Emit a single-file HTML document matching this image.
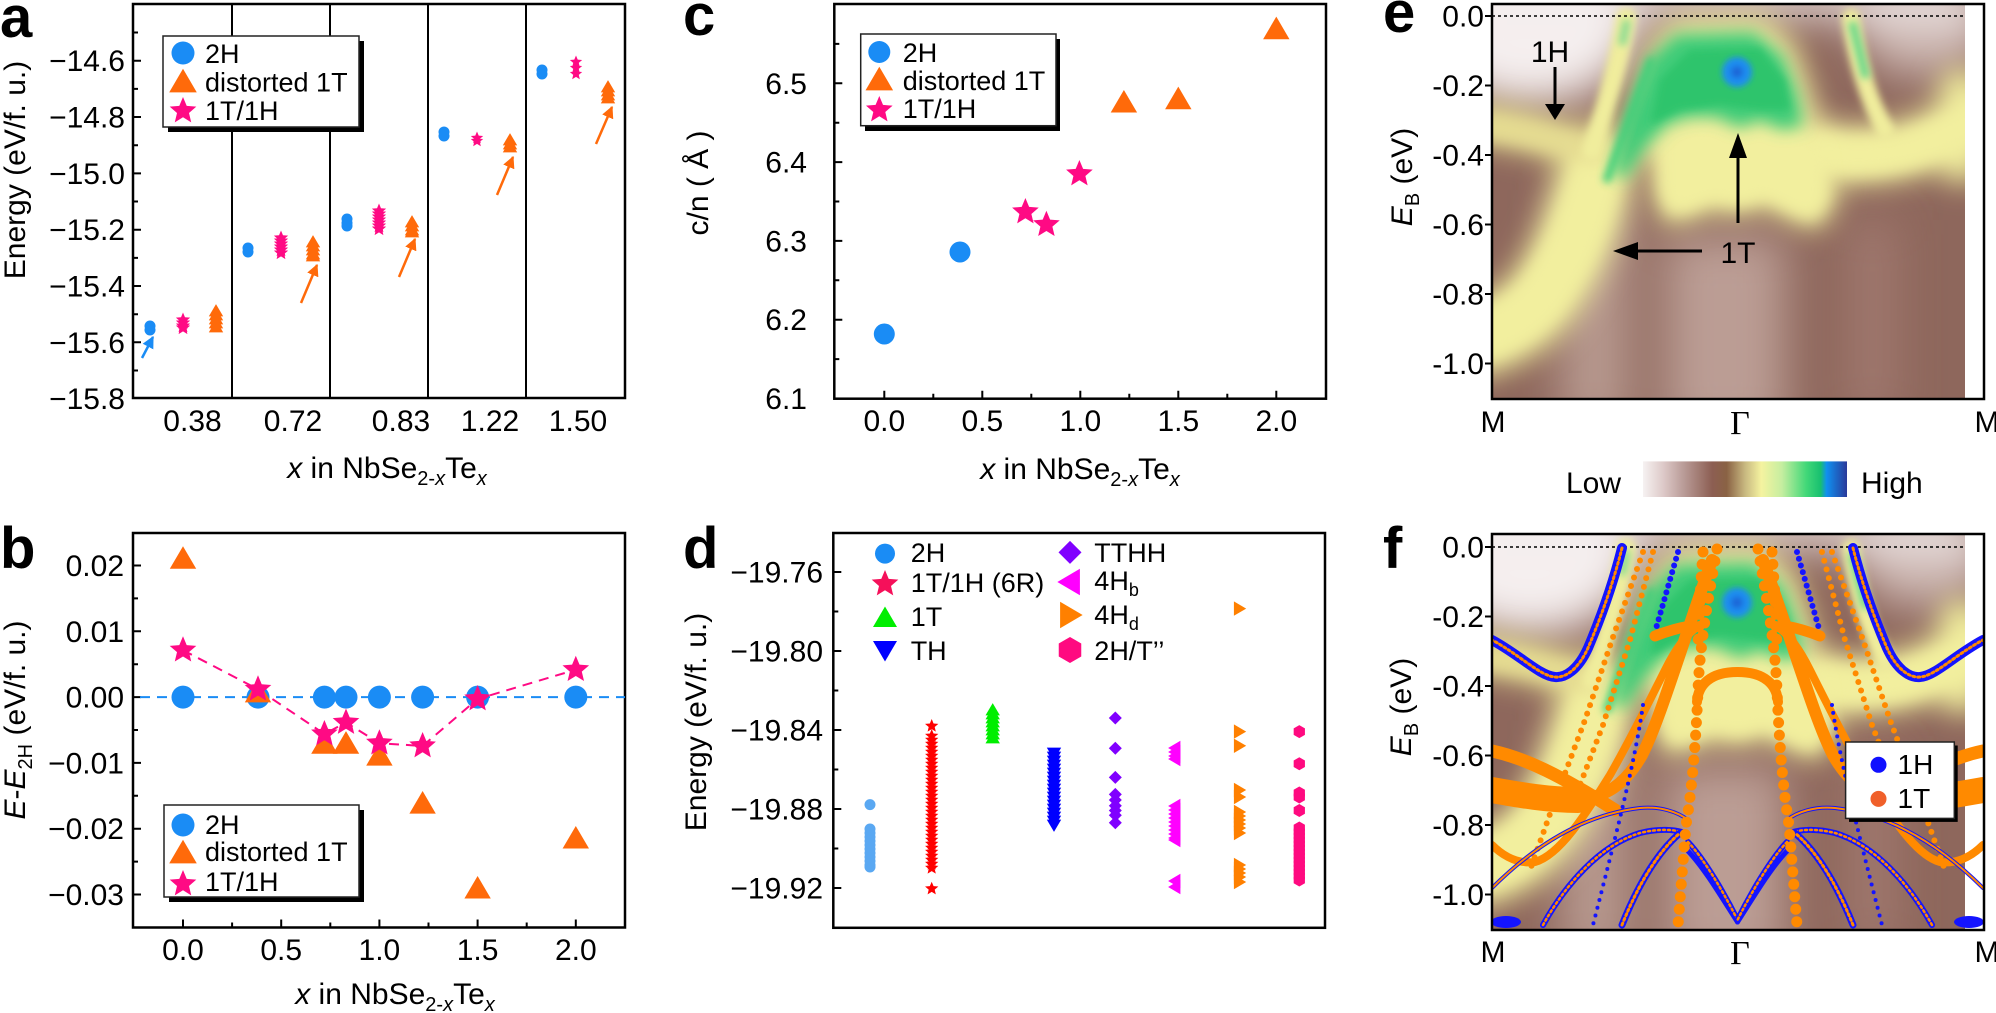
<!DOCTYPE html>
<html><head><meta charset="utf-8"><style>
html,body{margin:0;padding:0;background:#fff;}
svg{display:block;font-family:"Liberation Sans",Arial,sans-serif;}
.t{font-size:30px;}
.lg{font-size:27px;}
.pl{font-size:58px;font-weight:bold;}
</style></head><body>
<svg width="1996" height="1013" viewBox="0 0 1996 1013" xmlns="http://www.w3.org/2000/svg">
<defs>
<path id="st" d="M0,-1 L0.2645,-0.3641 L0.9511,-0.309 L0.428,0.1391 L0.5878,0.809 L0,0.45 L-0.5878,0.809 L-0.428,0.1391 L-0.9511,-0.309 L-0.2645,-0.3641Z"/>
<path id="tu" d="M0,-1.15 L1.2,0.9 L-1.2,0.9Z"/>
<path id="td" d="M0,1.15 L1.2,-0.9 L-1.2,-0.9Z"/>
<path id="tl" d="M-1.15,0 L0.9,-1.2 L0.9,1.2Z"/>
<path id="tr" d="M1.15,0 L-0.9,-1.2 L-0.9,1.2Z"/>
<path id="dm" d="M0,-1 L1,0 L0,1 L-1,0Z"/>
<path id="hx" d="M0,-1 L0.866,-0.5 L0.866,0.5 L0,1 L-0.866,0.5 L-0.866,-0.5Z"/>
<use id="stA" href="#st" transform="scale(7.5)"/>
<use id="stA2" href="#st" transform="scale(6.5)"/>
<use id="stB" href="#st" transform="scale(14)"/>
<use id="stD" href="#st" transform="scale(7)"/>
<use id="tuA" href="#tu" transform="scale(6)"/>
<use id="tuB" href="#tu" transform="scale(11)"/>
<use id="tuL" href="#tu" transform="scale(11.5)"/>
<use id="tuDL" href="#tu" transform="scale(10)"/>
<use id="tdD" href="#td" transform="scale(6)"/>
<use id="tdDL" href="#td" transform="scale(10)"/>
<use id="tlD" href="#tl" transform="scale(6)"/>
<use id="tlDL" href="#tl" transform="scale(11)"/>
<use id="trD" href="#tr" transform="scale(6)"/>
<use id="trDL" href="#tr" transform="scale(11)"/>
<use id="dmD" href="#dm" transform="scale(6.5)"/>
<use id="dmDL" href="#dm" transform="scale(11.5)"/>
<use id="hxD" href="#hx" transform="scale(6.5)"/>
<use id="hxDL" href="#hx" transform="scale(13)"/>
<marker id="ab" viewBox="0 0 10 10" refX="9" refY="5" markerWidth="12" markerHeight="12" markerUnits="userSpaceOnUse" orient="auto"><path d="M0,0 L10,5 L0,10z" fill="#1a8cf5"/></marker>
<marker id="ao" viewBox="0 0 10 10" refX="9" refY="5" markerWidth="12" markerHeight="12" markerUnits="userSpaceOnUse" orient="auto"><path d="M0,0 L10,5 L0,10z" fill="#ff6a0a"/></marker>
<filter id="b25" filterUnits="userSpaceOnUse" x="1300" y="-300" width="900" height="1000"><feGaussianBlur stdDeviation="22"/></filter>
<filter id="bB" filterUnits="userSpaceOnUse" x="1300" y="-300" width="900" height="1000"><feGaussianBlur stdDeviation="14"/></filter>
<filter id="bM" filterUnits="userSpaceOnUse" x="1300" y="-300" width="900" height="1000"><feGaussianBlur stdDeviation="8"/></filter>
<filter id="bS" filterUnits="userSpaceOnUse" x="1300" y="-300" width="900" height="1000"><feGaussianBlur stdDeviation="4"/></filter>
<filter id="b3" filterUnits="userSpaceOnUse" x="1300" y="-300" width="900" height="1000"><feGaussianBlur stdDeviation="3"/></filter>
<clipPath id="ce"><rect x="1492" y="4" width="473" height="395"/></clipPath>
<clipPath id="cf"><rect x="1492" y="534" width="473" height="396"/></clipPath>
<clipPath id="cf2"><rect x="1492" y="534" width="492" height="396"/></clipPath>
<linearGradient id="cb" x1="0" x2="1" y1="0" y2="0">
<stop offset="0" stop-color="#f6f2f2"/><stop offset="0.1" stop-color="#ddc9c8"/><stop offset="0.2" stop-color="#b99b97"/>
<stop offset="0.34" stop-color="#8c5e52"/><stop offset="0.41" stop-color="#8a6244"/><stop offset="0.5" stop-color="#c8b880"/>
<stop offset="0.58" stop-color="#f5f3a0"/><stop offset="0.68" stop-color="#c6eea0"/><stop offset="0.8" stop-color="#42d878"/>
<stop offset="0.87" stop-color="#18c070"/><stop offset="0.9" stop-color="#1090f0"/><stop offset="1" stop-color="#2a3a9a"/>
</linearGradient>
<g id="hm">
<rect x="1480" y="-10" width="500" height="420" fill="#8e675c"/>
<g filter="url(#b25)">
<rect x="1560" y="190" width="70" height="240" fill="#b7998f"/>
<rect x="1665" y="235" width="120" height="200" fill="#bb9d94"/>
<rect x="1850" y="220" width="45" height="200" fill="#a1796f"/>
<ellipse cx="1530" cy="20" rx="110" ry="85" fill="#f5efef"/>
<ellipse cx="1925" cy="25" rx="70" ry="50" fill="#cfbab5"/>
<rect x="1480" y="-20" width="500" height="34" fill="#f3eded"/>
</g>
<!-- soft wide yellow -->
<g filter="url(#bB)" fill="none" stroke="#efeb9c" stroke-linecap="round">
<path d="M1598,160 C1588,210 1570,260 1540,300 C1525,318 1505,330 1480,338" stroke-width="76"/>
<path d="M1480,124 C1520,128 1560,140 1598,152" stroke-width="40" stroke="#e2d890"/>
<path d="M1815,150 C1845,158 1880,155 1910,148 C1935,140 1955,128 1980,118" stroke-width="58"/>
<path d="M1962,92 L1962,160" stroke-width="48"/>
</g>
<g filter="url(#bB)" fill="#efeb9c">
<polygon points="1618,165 1632,100 1652,42 1676,18 1764,16 1796,46 1814,100 1820,138 1790,146 1740,138 1700,138 1658,150"/>
<polygon points="1650,136 1700,114 1740,124 1790,114 1830,146 1838,200 1820,230 1792,222 1765,206 1740,216 1712,210 1690,220 1666,226 1654,196"/>
</g>
<!-- sharper yellow cores -->
<g filter="url(#bM)" fill="none" stroke="#f2ef9e" stroke-linecap="round">
<path d="M1598,165 C1588,212 1570,258 1542,296 C1526,315 1508,326 1485,334" stroke-width="48"/>
<path d="M1485,126 C1520,130 1560,141 1596,152" stroke-width="22" stroke="#e6dd92"/>
<path d="M1825,152 C1850,158 1880,156 1910,149 C1935,141 1955,130 1975,122" stroke-width="36"/>
</g>
<g filter="url(#bM)" fill="#f2ef9e">
<polygon points="1660,142 1700,122 1740,132 1788,122 1822,150 1828,198 1814,220 1792,212 1765,198 1740,206 1712,200 1690,210 1670,214 1660,192"/>
</g>
<g filter="url(#bS)" fill="none" stroke="#f0ed9c" stroke-linecap="round">
<path d="M1626,18 C1620,60 1605,110 1592,150" stroke-width="20"/>
<path d="M1851,18 C1856,55 1866,95 1885,130" stroke-width="18"/>
</g>
<!-- green dome -->
<g filter="url(#bM)">
<polygon fill="#3fcc78" points="1614,172 1628,112 1650,58 1676,34 1754,32 1783,56 1798,96 1803,126 1782,130 1760,120 1740,128 1716,117 1690,117 1668,124 1646,146 1624,180"/>
</g>
<g filter="url(#bS)">
<polygon fill="#2fc46c" points="1660,80 1690,50 1760,48 1785,80 1790,110 1760,110 1720,105 1680,110 1650,125"/>
<path d="M1606,182 L1652,58" stroke="#3fd07a" stroke-width="8" fill="none"/>
<path d="M1852,22 L1866,78" stroke="#4fd486" stroke-width="7" fill="none"/>
<path d="M1627,20 L1622,45" stroke="#7ad890" stroke-width="7" fill="none"/>
</g>
<g filter="url(#b3)"><circle cx="1737" cy="72" r="15" fill="#1f8ef0"/><circle cx="1737" cy="72" r="6" fill="#1a66d8"/></g>
</g>
</defs>
<rect width="1996" height="1013" fill="#fff"/>

<!-- ================= Panel a ================= -->
<text class="pl" x="0" y="37">a</text>
<g stroke="#000" stroke-width="2">
<line x1="232" y1="4" x2="232" y2="398"/><line x1="330" y1="4" x2="330" y2="398"/><line x1="428" y1="4" x2="428" y2="398"/><line x1="526" y1="4" x2="526" y2="398"/>
</g>
<path d="M133,60.7h8M133,117h8M133,173.4h8M133,229.7h8M133,286h8M133,342.3h8M133,32.5h5M133,88.9h5M133,145.2h5M133,201.5h5M133,257.9h5M133,314.2h5M133,370.5h5" stroke="#000" stroke-width="2"/>
<rect x="133" y="4" width="492" height="394" fill="none" stroke="#000" stroke-width="2.5"/>
<g class="t" text-anchor="end">
<text x="125" y="71.2">−14.6</text><text x="125" y="127.5">−14.8</text><text x="125" y="183.9">−15.0</text><text x="125" y="240.2">−15.2</text><text x="125" y="296.5">−15.4</text><text x="125" y="352.8">−15.6</text><text x="125" y="409.1">−15.8</text>
</g>
<g class="t" text-anchor="middle">
<text x="192.5" y="431">0.38</text><text x="293" y="431">0.72</text><text x="401" y="431">0.83</text><text x="490" y="431">1.22</text><text x="578" y="431">1.50</text>
</g>
<text class="t" x="387" y="478" text-anchor="middle"><tspan font-style="italic">x</tspan> in NbSe<tspan font-size="20" dy="7">2-</tspan><tspan font-size="20" font-style="italic">x</tspan><tspan dy="-7">Te</tspan><tspan font-size="20" font-style="italic" dy="7">x</tspan></text>
<text class="t" transform="translate(25,170) rotate(-90)" text-anchor="middle">Energy (eV/f. u.)</text>
<g fill="#1a8cf5">
<circle cx="150" cy="326" r="5.5"/><circle cx="150" cy="330" r="5.5"/>
<circle cx="248" cy="248" r="5.5"/><circle cx="248" cy="252" r="5.5"/>
<circle cx="347" cy="219" r="5.5"/><circle cx="347" cy="223" r="5.5"/><circle cx="347" cy="226" r="5.5"/>
<circle cx="444" cy="132" r="5.5"/><circle cx="444" cy="136" r="5.5"/>
<circle cx="542" cy="70" r="5.5"/><circle cx="542" cy="74" r="5.5"/>
</g>
<g fill="#ff0a84">
<use href="#stA" x="183" y="320"/><use href="#stA" x="183" y="323"/><use href="#stA" x="183" y="326"/><use href="#stA" x="183" y="328"/>
<use href="#stA" x="281" y="238"/><use href="#stA" x="281" y="241"/><use href="#stA" x="281" y="244"/><use href="#stA" x="281" y="247"/><use href="#stA" x="281" y="250"/><use href="#stA" x="281" y="253"/>
<use href="#stA" x="379" y="211"/><use href="#stA" x="379" y="214"/><use href="#stA" x="379" y="217"/><use href="#stA" x="379" y="220"/><use href="#stA" x="379" y="223"/><use href="#stA" x="379" y="226"/><use href="#stA" x="379" y="229"/>
<use href="#stA2" x="477" y="138"/><use href="#stA2" x="477" y="141"/>
<use href="#stA2" x="576" y="62"/><use href="#stA2" x="576" y="68"/><use href="#stA2" x="576" y="74"/>
</g>
<g fill="#ff6a0a">
<use href="#tuA" x="216" y="311"/><use href="#tuA" x="216" y="315"/><use href="#tuA" x="216" y="319"/><use href="#tuA" x="216" y="323"/><use href="#tuA" x="216" y="327"/>
<use href="#tuA" x="313" y="242"/><use href="#tuA" x="313" y="246"/><use href="#tuA" x="313" y="250"/><use href="#tuA" x="313" y="254"/><use href="#tuA" x="313" y="256"/>
<use href="#tuA" x="412" y="222"/><use href="#tuA" x="412" y="226"/><use href="#tuA" x="412" y="230"/><use href="#tuA" x="412" y="232"/>
<use href="#tuA" x="510" y="140"/><use href="#tuA" x="510" y="144"/><use href="#tuA" x="510" y="147"/>
<use href="#tuA" x="608" y="87"/><use href="#tuA" x="608" y="91"/><use href="#tuA" x="608" y="95"/><use href="#tuA" x="608" y="98"/>
</g>
<line x1="142" y1="358" x2="153" y2="337" stroke="#1a8cf5" stroke-width="2.5" marker-end="url(#ab)"/>
<g stroke="#ff6a0a" stroke-width="2.5">
<line x1="301" y1="303" x2="317" y2="265" marker-end="url(#ao)"/>
<line x1="399" y1="277" x2="415" y2="239" marker-end="url(#ao)"/>
<line x1="497" y1="195" x2="513" y2="157" marker-end="url(#ao)"/>
<line x1="596" y1="144" x2="612" y2="107" marker-end="url(#ao)"/>
</g>
<rect x="168" y="41" width="196" height="91" fill="#000"/>
<rect x="163" y="36" width="196" height="91" fill="#fff" stroke="#222" stroke-width="1.5"/>
<circle cx="183" cy="53" r="11.5" fill="#1a8cf5"/>
<use href="#tuL" x="183" y="82" fill="#ff6a0a"/>
<use href="#stB" x="183" y="111" fill="#ff0a84"/>
<g class="lg"><text x="205" y="63">2H</text><text x="205" y="91.5">distorted 1T</text><text x="205" y="120">1T/1H</text></g>

<!-- ================= Panel b ================= -->
<text class="pl" x="0" y="568">b</text>
<path d="M133,565.5h8M133,631.3h8M133,697.1h8M133,762.9h8M133,828.7h8M133,894.5h8M133,598.4h5M133,664.2h5M133,730h5M133,795.8h5M133,861.6h5M183,927.5v-8M281.2,927.5v-8M379.4,927.5v-8M477.6,927.5v-8M575.8,927.5v-8M232.1,927.5v-5M330.3,927.5v-5M428.5,927.5v-5M526.7,927.5v-5" stroke="#000" stroke-width="2"/>
<rect x="133" y="533" width="492" height="394.5" fill="none" stroke="#000" stroke-width="2.5"/>
<g class="t" text-anchor="end">
<text x="124" y="576">0.02</text><text x="124" y="641.8">0.01</text><text x="124" y="707.6">0.00</text><text x="124" y="773.4">−0.01</text><text x="124" y="839.2">−0.02</text><text x="124" y="905">−0.03</text>
</g>
<g class="t" text-anchor="middle">
<text x="183" y="960">0.0</text><text x="281.2" y="960">0.5</text><text x="379.4" y="960">1.0</text><text x="477.6" y="960">1.5</text><text x="575.8" y="960">2.0</text>
</g>
<text class="t" x="395" y="1004" text-anchor="middle"><tspan font-style="italic">x</tspan> in NbSe<tspan font-size="20" dy="7">2-</tspan><tspan font-size="20" font-style="italic">x</tspan><tspan dy="-7">Te</tspan><tspan font-size="20" font-style="italic" dy="7">x</tspan></text>
<text class="t" transform="translate(25,720) rotate(-90)" text-anchor="middle"><tspan font-style="italic">E</tspan>-<tspan font-style="italic">E</tspan><tspan font-size="20" dy="7">2H</tspan><tspan dy="-7"> (eV/f. u.)</tspan></text>
<line x1="140" y1="697.1" x2="625" y2="697.1" stroke="#1a8cf5" stroke-width="2" stroke-dasharray="10,7"/>
<polyline points="183,650.2 258,689.3 324.4,734 346,722.5 379.4,743.2 422.6,746 477.6,699 575.8,669.7" fill="none" stroke="#ff0a84" stroke-width="2" stroke-dasharray="10,7"/>
<g fill="#1a8cf5">
<circle cx="183" cy="697.1" r="11.5"/><circle cx="258" cy="697.1" r="11.5"/><circle cx="324.4" cy="697.1" r="11.5"/><circle cx="346" cy="697.1" r="11.5"/><circle cx="379.4" cy="697.1" r="11.5"/><circle cx="422.6" cy="697.1" r="11.5"/><circle cx="477.6" cy="697.1" r="11.5"/><circle cx="575.8" cy="697.1" r="11.5"/>
</g>
<g fill="#ff6a0a">
<use href="#tuB" x="183" y="558.9"/><use href="#tuB" x="258" y="692.5"/><use href="#tuB" x="324.4" y="743.8"/><use href="#tuB" x="346" y="743.8"/><use href="#tuB" x="379.4" y="755.7"/><use href="#tuB" x="422.6" y="803.7"/><use href="#tuB" x="477.6" y="888.6"/><use href="#tuB" x="575.8" y="838.6"/>
</g>
<g fill="#ff0a84">
<use href="#stB" x="183" y="650.2"/><use href="#stB" x="258" y="689.3"/><use href="#stB" x="324.4" y="734"/><use href="#stB" x="346" y="722.5"/><use href="#stB" x="379.4" y="743.2"/><use href="#stB" x="422.6" y="746"/><use href="#stB" x="477.6" y="699"/><use href="#stB" x="575.8" y="669.7"/>
</g>
<rect x="169" y="810" width="195" height="92" fill="#000"/>
<rect x="164" y="805" width="195" height="92" fill="#fff" stroke="#222" stroke-width="1.5"/>
<circle cx="183" cy="825" r="11.5" fill="#1a8cf5"/>
<use href="#tuL" x="183" y="853" fill="#ff6a0a"/>
<use href="#stB" x="183" y="884" fill="#ff0a84"/>
<g class="lg"><text x="205" y="834">2H</text><text x="205" y="861">distorted 1T</text><text x="205" y="891">1T/1H</text></g>

<!-- ================= Panel c ================= -->
<text class="pl" x="683" y="35">c</text>
<path d="M834.3,83.3h8M834.3,162.1h8M834.3,240.9h8M834.3,319.7h8M834.3,43.9h5M834.3,122.7h5M834.3,201.5h5M834.3,280.3h5M834.3,359.1h5M884.3,398.7v-8M982.3,398.7v-8M1080.3,398.7v-8M1178.3,398.7v-8M1276.3,398.7v-8M933.3,398.7v-5M1031.3,398.7v-5M1129.3,398.7v-5M1227.3,398.7v-5" stroke="#000" stroke-width="2"/>
<rect x="834.3" y="4" width="491.7" height="394.7" fill="none" stroke="#000" stroke-width="2.5"/>
<g class="t" text-anchor="end">
<text x="807" y="93.8">6.5</text><text x="807" y="172.6">6.4</text><text x="807" y="251.4">6.3</text><text x="807" y="330.2">6.2</text><text x="807" y="409">6.1</text>
</g>
<g class="t" text-anchor="middle">
<text x="884.3" y="431">0.0</text><text x="982.3" y="431">0.5</text><text x="1080.3" y="431">1.0</text><text x="1178.3" y="431">1.5</text><text x="1276.3" y="431">2.0</text>
</g>
<text class="t" x="1080" y="479" text-anchor="middle"><tspan font-style="italic">x</tspan> in NbSe<tspan font-size="20" dy="7">2-</tspan><tspan font-size="20" font-style="italic">x</tspan><tspan dy="-7">Te</tspan><tspan font-size="20" font-style="italic" dy="7">x</tspan></text>
<text class="t" transform="translate(708,183) rotate(-90)" text-anchor="middle">c/n ( Å )</text>
<g fill="#1a8cf5"><circle cx="884.3" cy="334" r="10.5"/><circle cx="960" cy="252" r="10.5"/></g>
<g fill="#ff0a84"><use href="#stB" x="1025.4" y="212"/><use href="#stB" x="1046.4" y="224.7"/><use href="#stB" x="1079.4" y="174"/></g>
<g fill="#ff6a0a"><use href="#tuB" x="1123.9" y="102.6"/><use href="#tuB" x="1178.3" y="99.3"/><use href="#tuB" x="1276.3" y="29.3"/></g>
<rect x="865" y="39" width="195" height="92" fill="#000"/>
<rect x="860.7" y="34" width="195.3" height="91.7" fill="#fff" stroke="#222" stroke-width="1.5"/>
<circle cx="879.3" cy="52" r="11" fill="#1a8cf5"/>
<use href="#tuL" x="879.3" y="80" fill="#ff6a0a"/>
<use href="#stB" x="879.3" y="110" fill="#ff0a84"/>
<g class="lg"><text x="902.7" y="62">2H</text><text x="902.7" y="90">distorted 1T</text><text x="902.7" y="118">1T/1H</text></g>

<!-- ================= Panel d ================= -->
<text class="pl" x="683" y="568">d</text>
<path d="M833.3,572h8M833.3,651h8M833.3,730h8M833.3,809h8M833.3,888h8M833.3,611.5h5M833.3,690.5h5M833.3,769.5h5M833.3,848.5h5" stroke="#000" stroke-width="2"/>
<rect x="833.3" y="533" width="491.7" height="394.8" fill="none" stroke="#000" stroke-width="2.5"/>
<g class="t" text-anchor="end">
<text x="823" y="582.5">−19.76</text><text x="823" y="661.5">−19.80</text><text x="823" y="740.5">−19.84</text><text x="823" y="819.5">−19.88</text><text x="823" y="898.5">−19.92</text>
</g>
<text class="t" transform="translate(706,722) rotate(-90)" text-anchor="middle">Energy (eV/f. u.)</text>
<circle cx="885" cy="553.6" r="10" fill="#1a8cf5"/>
<use href="#stB" x="885" y="584" fill="#f5105a"/>
<use href="#tuDL" x="885" y="618" fill="#00ee00"/>
<use href="#tdDL" x="885" y="650" fill="#0000ff"/>
<use href="#dmDL" x="1070" y="552.4" fill="#8000ff"/>
<use href="#tlDL" x="1070" y="582" fill="#ff00ff"/>
<use href="#trDL" x="1070" y="615" fill="#ff8000"/>
<use href="#hxDL" x="1070" y="650" fill="#ff0a80"/>
<g class="lg">
<text x="910.7" y="562">2H</text><text x="910.7" y="592">1T/1H (6R)</text><text x="910.7" y="626">1T</text><text x="910.7" y="660">TH</text>
<text x="1094.3" y="562">TTHH</text>
<text x="1094.3" y="590">4H<tspan font-size="18" dy="6">b</tspan></text>
<text x="1094.3" y="624">4H<tspan font-size="18" dy="6">d</tspan></text>
<text x="1094.3" y="660">2H/T’’</text>
</g>
<g fill="#5aa8f2"><circle cx="870" cy="804.6" r="5.5"/>
<circle cx="870" cy="829" r="5.5"/><circle cx="870" cy="833" r="5.5"/><circle cx="870" cy="837" r="5.5"/><circle cx="870" cy="841" r="5.5"/><circle cx="870" cy="845" r="5.5"/><circle cx="870" cy="849" r="5.5"/><circle cx="870" cy="853" r="5.5"/><circle cx="870" cy="857" r="5.5"/><circle cx="870" cy="861" r="5.5"/><circle cx="870" cy="865" r="5.5"/><circle cx="870" cy="867" r="5.5"/>
</g>
<g fill="#ff0000">
<use href="#stD" x="931.7" y="726"/><use href="#stD" x="931.7" y="736"/><use href="#stD" x="931.7" y="740"/><use href="#stD" x="931.7" y="744"/><use href="#stD" x="931.7" y="748"/><use href="#stD" x="931.7" y="752"/><use href="#stD" x="931.7" y="756"/><use href="#stD" x="931.7" y="760"/><use href="#stD" x="931.7" y="764"/><use href="#stD" x="931.7" y="768"/><use href="#stD" x="931.7" y="772"/><use href="#stD" x="931.7" y="776"/><use href="#stD" x="931.7" y="780"/><use href="#stD" x="931.7" y="784"/><use href="#stD" x="931.7" y="788"/><use href="#stD" x="931.7" y="792"/><use href="#stD" x="931.7" y="796"/><use href="#stD" x="931.7" y="800"/><use href="#stD" x="931.7" y="804"/><use href="#stD" x="931.7" y="808"/><use href="#stD" x="931.7" y="812"/><use href="#stD" x="931.7" y="816"/><use href="#stD" x="931.7" y="820"/><use href="#stD" x="931.7" y="824"/><use href="#stD" x="931.7" y="828"/><use href="#stD" x="931.7" y="832"/><use href="#stD" x="931.7" y="836"/><use href="#stD" x="931.7" y="840"/><use href="#stD" x="931.7" y="844"/><use href="#stD" x="931.7" y="848"/><use href="#stD" x="931.7" y="852"/><use href="#stD" x="931.7" y="856"/><use href="#stD" x="931.7" y="860"/><use href="#stD" x="931.7" y="864"/><use href="#stD" x="931.7" y="868"/><use href="#stD" x="931.7" y="888.7"/>
</g>
<g fill="#00ee00">
<use href="#tuA" x="992.7" y="710"/><use href="#tuA" x="992.7" y="714"/><use href="#tuA" x="992.7" y="718"/><use href="#tuA" x="992.7" y="722"/><use href="#tuA" x="992.7" y="726"/><use href="#tuA" x="992.7" y="730"/><use href="#tuA" x="992.7" y="734"/><use href="#tuA" x="992.7" y="738"/>
</g>
<g fill="#0000ff">
<use href="#tdD" x="1054" y="753"/><use href="#tdD" x="1054" y="757"/><use href="#tdD" x="1054" y="761"/><use href="#tdD" x="1054" y="765"/><use href="#tdD" x="1054" y="769"/><use href="#tdD" x="1054" y="773"/><use href="#tdD" x="1054" y="777"/><use href="#tdD" x="1054" y="781"/><use href="#tdD" x="1054" y="785"/><use href="#tdD" x="1054" y="789"/><use href="#tdD" x="1054" y="793"/><use href="#tdD" x="1054" y="797"/><use href="#tdD" x="1054" y="801"/><use href="#tdD" x="1054" y="805"/><use href="#tdD" x="1054" y="809"/><use href="#tdD" x="1054" y="813"/><use href="#tdD" x="1054" y="817"/><use href="#tdD" x="1054" y="821"/><use href="#tdD" x="1054" y="825"/>
</g>
<g fill="#8000ff">
<use href="#dmD" x="1115.3" y="718"/><use href="#dmD" x="1115.3" y="748.3"/><use href="#dmD" x="1115.3" y="777.4"/><use href="#dmD" x="1115.3" y="794.4"/><use href="#dmD" x="1115.3" y="800"/><use href="#dmD" x="1115.3" y="805.8"/><use href="#dmD" x="1115.3" y="810.5"/><use href="#dmD" x="1115.3" y="815.2"/><use href="#dmD" x="1115.3" y="822.8"/>
</g>
<g fill="#ff00ff">
<use href="#tlD" x="1175" y="748"/><use href="#tlD" x="1175" y="752"/><use href="#tlD" x="1175" y="756"/><use href="#tlD" x="1175" y="759"/>
<use href="#tlD" x="1175" y="806"/><use href="#tlD" x="1175" y="810"/><use href="#tlD" x="1175" y="814"/><use href="#tlD" x="1175" y="818"/><use href="#tlD" x="1175" y="822"/><use href="#tlD" x="1175" y="826"/><use href="#tlD" x="1175" y="830"/><use href="#tlD" x="1175" y="834"/><use href="#tlD" x="1175" y="838"/><use href="#tlD" x="1175" y="840"/>
<use href="#tlD" x="1175" y="881"/><use href="#tlD" x="1175" y="887"/>
</g>
<g fill="#ff8000">
<use href="#trD" x="1239.3" y="608.6"/><use href="#trD" x="1239.3" y="731.6"/><use href="#trD" x="1239.3" y="745.8"/>
<use href="#trD" x="1239.3" y="790"/><use href="#trD" x="1239.3" y="797"/>
<use href="#trD" x="1239.3" y="812"/><use href="#trD" x="1239.3" y="816"/><use href="#trD" x="1239.3" y="820"/><use href="#trD" x="1239.3" y="824"/><use href="#trD" x="1239.3" y="828"/><use href="#trD" x="1239.3" y="833"/>
<use href="#trD" x="1239.3" y="865"/><use href="#trD" x="1239.3" y="869"/><use href="#trD" x="1239.3" y="873"/><use href="#trD" x="1239.3" y="877"/><use href="#trD" x="1239.3" y="882"/>
</g>
<g fill="#ff0a80">
<use href="#hxD" x="1299.3" y="731.6"/><use href="#hxD" x="1299.3" y="763.8"/><use href="#hxD" x="1299.3" y="793"/><use href="#hxD" x="1299.3" y="797"/><use href="#hxD" x="1299.3" y="810.5"/>
<use href="#hxD" x="1299.3" y="828"/><use href="#hxD" x="1299.3" y="832"/><use href="#hxD" x="1299.3" y="836"/><use href="#hxD" x="1299.3" y="840"/><use href="#hxD" x="1299.3" y="844"/><use href="#hxD" x="1299.3" y="848"/><use href="#hxD" x="1299.3" y="852"/><use href="#hxD" x="1299.3" y="856"/><use href="#hxD" x="1299.3" y="860"/><use href="#hxD" x="1299.3" y="864"/><use href="#hxD" x="1299.3" y="868"/><use href="#hxD" x="1299.3" y="872"/><use href="#hxD" x="1299.3" y="876"/><use href="#hxD" x="1299.3" y="880"/>
</g>

<!-- ================= Panel e ================= -->
<text class="pl" x="1383" y="32">e</text>
<g clip-path="url(#ce)"><use href="#hm"/></g>
<line x1="1492" y1="16" x2="1965" y2="16" stroke="#000" stroke-width="1.5" stroke-dasharray="3,3"/>
<path d="M1485,16h7M1485,85.5h7M1485,155h7M1485,224.5h7M1485,294h7M1485,363.5h7" stroke="#000" stroke-width="2"/>
<rect x="1492" y="4" width="492" height="395" fill="none" stroke="#000" stroke-width="2.5"/>
<g class="t" text-anchor="end">
<text x="1484" y="26.5">0.0</text><text x="1484" y="96">-0.2</text><text x="1484" y="165.5">-0.4</text><text x="1484" y="235">-0.6</text><text x="1484" y="304.5">-0.8</text><text x="1484" y="374">-1.0</text>
</g>
<text class="t" transform="translate(1412,177) rotate(-90)" text-anchor="middle"><tspan font-style="italic">E</tspan><tspan font-size="20" dy="7">B</tspan><tspan dy="-7"> (eV)</tspan></text>
<g class="t" text-anchor="middle">
<text x="1493" y="432">M</text><text x="1740" y="434" font-family="Liberation Serif, serif" font-size="34">Γ</text><text x="1987" y="432">M</text>
</g>
<text class="t" x="1550" y="62" text-anchor="middle">1H</text>
<line x1="1555" y1="67" x2="1555" y2="106" stroke="#000" stroke-width="3"/>
<path d="M1545,104 L1565,104 L1555,120Z" fill="#000"/>
<text class="t" x="1738" y="263" text-anchor="middle">1T</text>
<line x1="1738" y1="223" x2="1738" y2="155" stroke="#000" stroke-width="3"/>
<path d="M1729,158 L1747,158 L1738,133Z" fill="#000"/>
<line x1="1702" y1="251" x2="1635" y2="251" stroke="#000" stroke-width="3"/>
<path d="M1638,242 L1638,260 L1613,251Z" fill="#000"/>
<rect x="1643" y="461.4" width="204" height="35.6" fill="url(#cb)"/>
<text class="t" x="1566" y="493">Low</text>
<text class="t" x="1861" y="493">High</text>

<!-- ================= Panel f ================= -->
<text class="pl" x="1383" y="568">f</text>
<g clip-path="url(#cf)"><use href="#hm" transform="translate(0,530.5)"/></g>
<line x1="1492" y1="547" x2="1965" y2="547" stroke="#000" stroke-width="1.5" stroke-dasharray="3,3"/>
<g clip-path="url(#cf2)">
<g id="ovL">
<g fill="none" stroke="#ff8a00" stroke-linecap="round">
<path d="M1492,790 C1520,795 1548,800 1578,800" stroke-width="26"/>
<path d="M1575,800 C1605,798 1625,785 1642,755 C1660,720 1680,650 1712,560" stroke-width="12"/>
<path d="M1492,751 C1525,758 1560,775 1615,810" stroke-width="13"/>
<path d="M1492,845 C1505,858 1520,864 1535,862 C1560,855 1585,815 1610,775 C1630,740 1650,700 1665,670 C1675,650 1685,635 1700,625" stroke-width="8"/>
<path d="M1655,636 C1665,632 1678,628 1690,626" stroke-width="11"/>
<path d="M1697,702 C1698,685 1710,672 1737.5,672" stroke-width="10"/>
</g>
<g fill="none" stroke="#ff8a00" stroke-linecap="round" stroke-width="6" stroke-dasharray="0 9">
<path d="M1643,552 L1612,640 L1585,720 L1555,800 L1530,870"/>
<path d="M1653,552 L1630,640 L1603,725 L1578,790"/>
</g>
<g fill="none" stroke-linecap="round">
<path d="M1622,548 C1614,580 1602,615 1588,648 C1578,670 1565,678 1555,677 C1540,676 1520,655 1492,640" stroke="#1414ff" stroke-width="10"/>
<path d="M1622,548 C1614,580 1602,615 1588,648 C1578,670 1565,678 1555,677 C1540,676 1520,655 1492,640" stroke="#ff8a00" stroke-width="3" stroke-dasharray="2 3"/>
<path d="M1678,552 L1655,632" stroke="#1414ff" stroke-width="6" stroke-dasharray="0 7"/>
<path d="M1643,705 C1635,760 1620,820 1593,925" stroke="#1414ff" stroke-width="4" stroke-dasharray="0 8"/>
<path d="M1492,888 C1530,850 1580,815 1640,808 C1660,806 1678,812 1688,820" stroke="#1414ff" stroke-width="4"/>
<path d="M1492,888 C1530,850 1580,815 1640,808 C1660,806 1678,812 1688,820" stroke="#ff8a00" stroke-width="2"/>
<path d="M1543,925 C1565,885 1600,845 1640,833 C1660,828 1675,830 1682,832" stroke="#1414ff" stroke-width="6"/>
<path d="M1543,925 C1565,885 1600,845 1640,833 C1660,828 1675,830 1682,832" stroke="#ff8a00" stroke-width="2.5" stroke-dasharray="2 3"/>
<path d="M1622,925 C1640,880 1660,850 1680,833" stroke="#1414ff" stroke-width="7"/>
<path d="M1622,925 C1640,880 1660,850 1680,833" stroke="#ff8a00" stroke-width="3" stroke-dasharray="2 3"/>
<path d="M1688,842 C1705,860 1725,895 1737.5,920" stroke="#1414ff" stroke-width="6"/>
<path d="M1688,851 C1705,869 1722,898 1737.5,922" stroke="#1414ff" stroke-width="5"/>
<path d="M1688,842 C1705,860 1725,895 1737.5,920" stroke="#ff8a00" stroke-width="2.5" stroke-dasharray="2 3"/>
</g>
<ellipse cx="1506" cy="922" rx="15" ry="6" fill="#1414ff"/>
<g fill="none" stroke="#ff8a00" stroke-width="11" stroke-linecap="round" stroke-dasharray="0 12.5">
<path d="M1717,549 C1710,590 1700,640 1698,690 C1696,740 1692,790 1686,825 L1678,925"/>
<path d="M1703,552 C1701,580 1699,610 1698,650"/>
</g>
</g>
<use href="#ovL" transform="translate(3475,0) scale(-1,1)"/>
</g>
<path d="M1485,547h7M1485,616.5h7M1485,686h7M1485,755.5h7M1485,825h7M1485,894.5h7" stroke="#000" stroke-width="2"/>
<rect x="1492" y="534" width="492" height="396" fill="none" stroke="#000" stroke-width="2.5"/>
<g class="t" text-anchor="end">
<text x="1484" y="557.5">0.0</text><text x="1484" y="627">-0.2</text><text x="1484" y="696.5">-0.4</text><text x="1484" y="766">-0.6</text><text x="1484" y="835.5">-0.8</text><text x="1484" y="905">-1.0</text>
</g>
<text class="t" transform="translate(1411,707) rotate(-90)" text-anchor="middle"><tspan font-style="italic">E</tspan><tspan font-size="20" dy="7">B</tspan><tspan dy="-7"> (eV)</tspan></text>
<g class="t" text-anchor="middle">
<text x="1493" y="962">M</text><text x="1740" y="964" font-family="Liberation Serif, serif" font-size="34">Γ</text><text x="1987" y="962">M</text>
</g>
<rect x="1849" y="745.5" width="108.7" height="76.4" fill="#000"/>
<rect x="1845.6" y="742" width="108.7" height="76.4" fill="#fff" stroke="#222" stroke-width="1.5"/>
<circle cx="1878.5" cy="764.8" r="8" fill="#1010ff"/>
<circle cx="1878.5" cy="798.9" r="8" fill="#f0602a"/>
<text x="1897.5" y="774" font-size="28">1H</text>
<text x="1897.5" y="808" font-size="28">1T</text>
</svg>
</body></html>
